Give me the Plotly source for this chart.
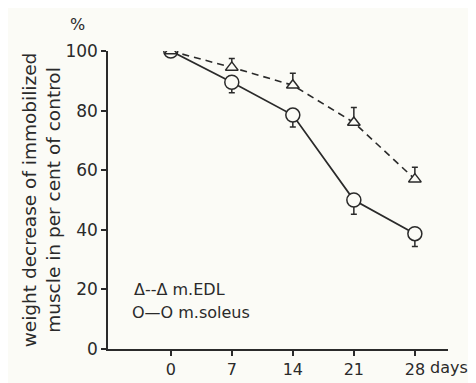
import plotly.graph_objects as go

days = [0, 7, 14, 21, 28]
edl_values = [100, 94.5, 88.5, 76, 57]
edl_err_up = [0, 3, 4, 5, 4]
soleus_values = [100, 89.5, 78.5, 50, 38.7]
soleus_err_down = [0, 3.5, 4, 4.8, 4.3]
y_ticks = [0, 20, 40, 60, 80, 100]
x_ticks = [0, 7, 14, 21, 28]
edl_name = "m.EDL"
soleus_name = "m.soleus"

BG = "#fbfbf6"
INK = "#2a2a2a"
FONT = "DejaVu Sans"

fig = go.Figure()
fig.add_trace(go.Scatter(
    x=days, y=soleus_values, mode="lines+markers", name=soleus_name,
    line=dict(color=INK, width=1.8),
    marker=dict(symbol="circle", size=14, color=BG, line=dict(color=INK, width=1.5)),
    error_y=dict(type="data", array=[0]*5, arrayminus=soleus_err_down, symmetric=False,
                 color=INK, thickness=1.5, width=3),
    showlegend=False,
))
fig.add_trace(go.Scatter(
    x=days, y=edl_values, mode="lines+markers", name=edl_name,
    line=dict(color=INK, width=1.6, dash="7px,5px"),
    marker=dict(symbol="triangle-up", size=11, color=BG, line=dict(color=INK, width=1.5)),
    error_y=dict(type="data", array=edl_err_up, arrayminus=[0]*5, symmetric=False,
                 color=INK, thickness=1.5, width=3),
    showlegend=False,
))

fig.update_layout(
    width=476, height=383,
    margin=dict(l=100, r=36, t=43, b=35),
    paper_bgcolor=BG, plot_bgcolor=BG,
    font=dict(family=FONT, size=16, color=INK),
    xaxis=dict(range=[-7.2, 31.8], tickvals=x_ticks, ticks="outside", ticklen=5,
               tickwidth=1.5, tickcolor=INK, showline=True, linecolor=INK, linewidth=1.5,
               showgrid=False, zeroline=False, tickfont=dict(size=16)),
    yaxis=dict(range=[0, 100], tickvals=y_ticks, ticks="outside", ticklen=5,
               tickwidth=1.5, tickcolor=INK, showline=True, linecolor=INK, linewidth=1.5,
               showgrid=False, zeroline=False, tickfont=dict(size=17),
               title=dict(text="weight decrease of immobilized<br>muscle in per cent of control",
                          font=dict(size=18.5), standoff=0)),
    annotations=[
        dict(text="%", xref="paper", yref="paper", x=-0.09, y=1.09, showarrow=False,
             font=dict(size=16), xanchor="center", yanchor="middle"),
        dict(text="days", xref="paper", yref="paper", x=0.94, y=-0.062, showarrow=False,
             font=dict(size=16), xanchor="left", yanchor="middle"),
        dict(text="Δ--Δ " + edl_name, xref="paper", yref="paper", x=0.072, y=0.2,
             showarrow=False, font=dict(size=16), xanchor="left", yanchor="middle"),
        dict(text="O—O " + soleus_name, xref="paper", yref="paper", x=0.066, y=0.122,
             showarrow=False, font=dict(size=16), xanchor="left", yanchor="middle"),
    ],
)

fig.write_html("out.html")
